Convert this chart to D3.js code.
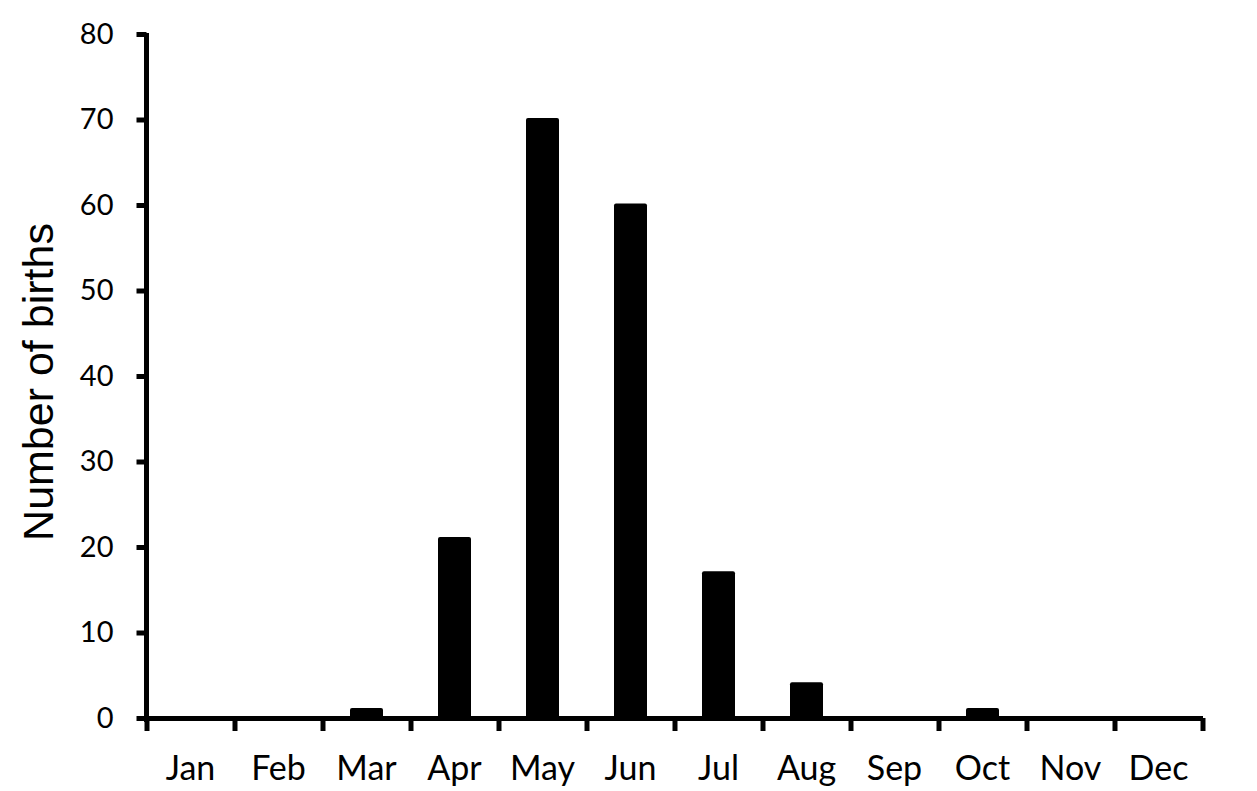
<!DOCTYPE html>
<html>
<head>
<meta charset="utf-8">
<script src="https://cdn.jsdelivr.net/npm/d3@7"></script>
<style>
  body { margin: 0; background: #fff; }
  .tick text { font-family: Lato, "Open Sans", sans-serif; font-size: 29px; fill: #000; }
  .xlabels .tick text { font-size: 34px; }
</style>
</head>
<body>
<script>
// DATA
var months = ["Jan", "Feb", "Mar", "Apr", "May", "Jun", "Jul", "Aug", "Sep", "Oct", "Nov", "Dec"];
var births = [0, 0, 1, 21, 70, 60, 17, 4, 0, 1, 0, 0];
var yTicks = [0, 10, 20, 30, 40, 50, 60, 70, 80];

var svg = d3.select("body")
    .append("svg")
    .attr("width", 1257)
    .attr("height", 791);

const margin = {top: 34, right: 54.5, bottom: 73, left: 146.5};
const width = 1257 - margin.left - margin.right;
const height = 791 - margin.top - margin.bottom;

const xScale = d3.scaleBand()
    .domain(months)
    .range([0, width])
    .padding(0);

const xEdges = d3.scaleLinear()
    .domain([0, months.length])
    .range([0, width]);

const yScale = d3.scaleLinear()
    .domain([0, 80])
    .range([height, 0]);

const g = svg.append("g")
    .attr("transform", "translate(" + margin.left + "," + margin.top + ")");

// bars
const barW = xScale.bandwidth() * 0.375;
g.selectAll("rect").data(births)
    .enter()
    .append("rect")
    .attr("x", (d, i) => xScale(months[i]) + (xScale.bandwidth() - barW) / 2)
    .attr("y", d => yScale(d) - 1.5)
    .attr("width", barW)
    .attr("height", d => d > 0 ? height - yScale(d) + 1.5 : 0)
    .attr("rx", 2)
    .attr("fill", "#000");

// y axis
const yAxis = g.append("g")
    .call(d3.axisLeft(yScale).tickValues(yTicks).tickSize(10).tickSizeOuter(0).tickPadding(23));
yAxis.select(".domain").attr("stroke", "#000").attr("stroke-width", 5)
    .attr("d", "M0," + (yScale(80) - 1) + "V" + (height + 4));
yAxis.selectAll(".tick line").attr("stroke", "#000").attr("stroke-width", 5);

// x axis line and ticks at band edges
const xTickAxis = g.append("g")
    .attr("transform", "translate(0," + height + ")")
    .call(d3.axisBottom(xEdges).ticks(12).tickFormat("").tickSize(13).tickSizeOuter(0));
xTickAxis.select(".domain").attr("stroke", "#000").attr("stroke-width", 5);
xTickAxis.selectAll(".tick line").attr("stroke", "#000").attr("stroke-width", 5);

// x labels at band centres
const xLabelAxis = g.append("g")
    .attr("class", "xlabels")
    .attr("transform", "translate(0," + height + ")")
    .call(d3.axisBottom(xScale).tickSize(0).tickPadding(38));
xLabelAxis.select(".domain").remove();

// y axis title
svg.append("text")
    .attr("transform", "translate(53," + 382 + ") rotate(-90)")
    .attr("text-anchor", "middle")
    .style("font-family", "'Liberation Sans', Arial, sans-serif")
    .style("font-size", "43px")
    .attr("fill", "#000")
    .text("Number of births");
</script>
</body>
</html>
